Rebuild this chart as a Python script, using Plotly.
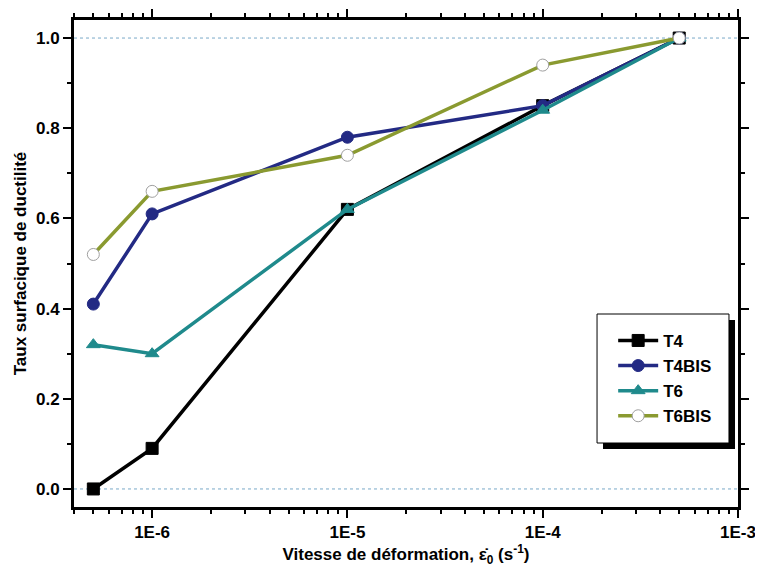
import plotly.graph_objects as go

strain_rate = [5e-7, 1e-6, 1e-5, 1e-4, 5e-4]
t4 = [0.00, 0.09, 0.62, 0.85, 1.00]
t4bis = [0.41, 0.61, 0.78, 0.85, 1.00]
t6 = [0.32, 0.30, 0.62, 0.84, 1.00]
t6bis = [0.52, 0.66, 0.74, 0.94, 1.00]

x_ticks = [1e-6, 1e-5, 1e-4, 1e-3]
x_ticklabels = ["1E-6", "1E-5", "1E-4", "1E-3"]
y_ticks = [0.0, 0.2, 0.4, 0.6, 0.8, 1.0]
y_ticklabels = ["0.0", "0.2", "0.4", "0.6", "0.8", "1.0"]

FONT = "Liberation Sans, Arial, sans-serif"

fig = go.Figure()
series = [
    ("T4", t4, "#000000", "square", "#000000", "#000000"),
    ("T4BIS", t4bis, "#232a84", "circle", "#232a84", "#232a84"),
    ("T6", t6, "#1f8a8c", "triangle-up", "#1f8a8c", "#1f8a8c"),
    ("T6BIS", t6bis, "#8a9a30", "circle", "#ffffff", "#a0a0a0"),
]
for name, vals, col, sym, fill, edge in series:
    fig.add_trace(go.Scatter(
        x=strain_rate, y=vals, name=name, mode="lines+markers",
        line=dict(color=col, width=3.5),
        marker=dict(symbol=sym, size=12, color=fill, line=dict(color=edge, width=1)),
    ))

# dotted reference lines
for yv in [0.0, 1.0]:
    fig.add_shape(type="line", xref="paper", x0=0, x1=1, yref="y", y0=yv, y1=yv,
                  line=dict(color="#7aaac8", width=1, dash="dot"), layer="below")

# legend shadow and box
fig.add_shape(type="rect", xref="paper", yref="paper", x0=0.7967, x1=0.9955, y0=0.1191, y1=0.384,
              fillcolor="black", line=dict(width=0), layer="above")
fig.add_shape(type="rect", xref="paper", yref="paper", x0=0.7877, x1=0.9864, y0=0.1314, y1=0.3963,
              fillcolor="white", line=dict(color="black", width=1), layer="above")

axis_common = dict(
    showline=True, linecolor="black", linewidth=3, mirror="ticks",
    ticks="outside", tickcolor="black", tickwidth=2, ticklen=8,
    showgrid=False, zeroline=False, automargin=False, ticklabeloverflow="allow",
    tickfont=dict(family=FONT, size=17, color="black", weight="bold"),
)

fig.update_layout(
    width=755, height=559,
    margin=dict(l=66, r=25, t=12, b=60),
    paper_bgcolor="white", plot_bgcolor="white",
    font=dict(family=FONT, color="black"),
    showlegend=True,
    legend=dict(x=0.812, y=0.378, xanchor="left", yanchor="top",
                bgcolor="rgba(0,0,0,0)", borderwidth=0,
                font=dict(family=FONT, size=17, color="black", weight="bold"),
                tracegroupgap=0, itemwidth=40),
    xaxis=dict(type="log", range=[-6.4, -3], tickvals=x_ticks, ticktext=x_ticklabels,
               minor=dict(ticks="outside", ticklen=4, tickwidth=2, tickcolor="black", dtick="D1"),
               title=dict(text="Vitesse de déformation, ε̇<sub>0</sub> (s<sup>-1</sup>)",
                          font=dict(family=FONT, size=17, color="black", weight="bold"), standoff=0),
               **axis_common),
    yaxis=dict(range=[-0.04, 1.04], tickvals=y_ticks, ticktext=y_ticklabels,
               minor=dict(ticks="outside", ticklen=4, tickwidth=2, tickcolor="black", dtick=0.1),
               title=dict(text="Taux surfacique de ductilité",
                          font=dict(family=FONT, size=17, color="black", weight="bold"), standoff=6),
               **axis_common),
)

fig.write_html("out.html")
